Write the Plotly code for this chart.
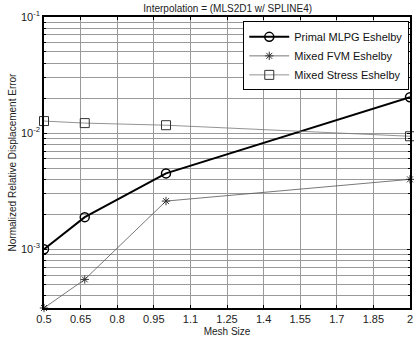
import plotly.graph_objects as go
import numpy as np

mesh_size = [0.5, 0.667, 1.0, 2.0]
primal_mlpg = [1.0e-3, 1.89e-3, 4.5e-3, 2.04e-2]
mixed_fvm = [3.12e-4, 5.5e-4, 2.6e-3, 4.0e-3]
mixed_stress = [1.27e-2, 1.22e-2, 1.17e-2, 9.4e-3]

x_ticks = [0.5, 0.65, 0.8, 0.95, 1.1, 1.25, 1.4, 1.55, 1.7, 1.85, 2.0]
x_ticktext = ["0.5", "0.65", "0.8", "0.95", "1.1", "1.25", "1.4", "1.55", "1.7", "1.85", "2"]

y_major = [1e-3, 1e-2, 1e-1]
y_major_text = ["10<sup>-3</sup>", "10<sup>-2</sup>", "10<sup>-1</sup>"]
y_minor = [m * 10.0 ** e for e in [-4, -3, -2] for m in range(2, 10) if m * 10.0 ** e >= 3.1e-4]

font = "Liberation Sans, Arial, sans-serif"

fig = go.Figure()
fig.add_trace(go.Scatter(
    x=mesh_size, y=primal_mlpg, name="Primal MLPG Eshelby", mode="lines+markers",
    line=dict(color="black", width=2),
    marker=dict(symbol="circle-open", size=9, color="black", line=dict(width=1.5)),
))
fig.add_trace(go.Scatter(
    x=mesh_size, y=mixed_fvm, name="Mixed FVM Eshelby", mode="lines+markers",
    line=dict(color="#555555", width=0.8),
    marker=dict(symbol="asterisk-open", size=7, color="#333333", line=dict(width=1)),
    cliponaxis=False,
))
fig.add_trace(go.Scatter(
    x=mesh_size, y=mixed_stress, name="Mixed Stress Eshelby", mode="lines+markers",
    line=dict(color="#777777", width=0.8),
    marker=dict(symbol="square-open", size=9, color="#333333", line=dict(width=1)),
    cliponaxis=False,
))

fig.update_layout(
    width=414, height=343,
    margin=dict(l=44, r=2, t=17, b=35),
    paper_bgcolor="white", plot_bgcolor="white",
    font=dict(family=font, size=10, color="#222222"),
    title=dict(text="Interpolation = (MLS2D1 w/ SPLINE4)", x=0.55, xanchor="center",
               y=0.985, yanchor="top", font=dict(size=10)),
    showlegend=True,
    legend=dict(x=0.998, y=0.985, xanchor="right", yanchor="top",
                bordercolor="black", borderwidth=1, bgcolor="white",
                font=dict(size=11, color="#111111"), tracegroupgap=0, itemwidth=40),
)
fig.update_xaxes(
    range=[0.5, 2.0], tickvals=x_ticks, ticktext=x_ticktext,
    showgrid=True, gridcolor="#999999", gridwidth=1,
    showline=True, linecolor="black", linewidth=1.5, mirror="ticks",
    ticks="inside", ticklen=3, tickcolor="black",
    tickfont=dict(size=11), zeroline=False,
    title=dict(text="Mesh Size", font=dict(size=10), standoff=4),
)
fig.update_yaxes(
    type="log", range=[np.log10(3.12e-4), -1],
    tickvals=y_major, ticktext=y_major_text,
    showgrid=True, gridcolor="#999999", gridwidth=1,
    minor=dict(tickvals=y_minor, showgrid=True, gridcolor="#999999", gridwidth=1,
               ticks="inside", ticklen=2, tickcolor="black"),
    showline=True, linecolor="black", linewidth=1.5, mirror="ticks",
    ticks="inside", ticklen=3, tickcolor="black",
    tickfont=dict(size=11), zeroline=False,
    title=dict(text="Normalized Relative Displacement Error", font=dict(size=10), standoff=2),
)

fig.write_html("out.html")
